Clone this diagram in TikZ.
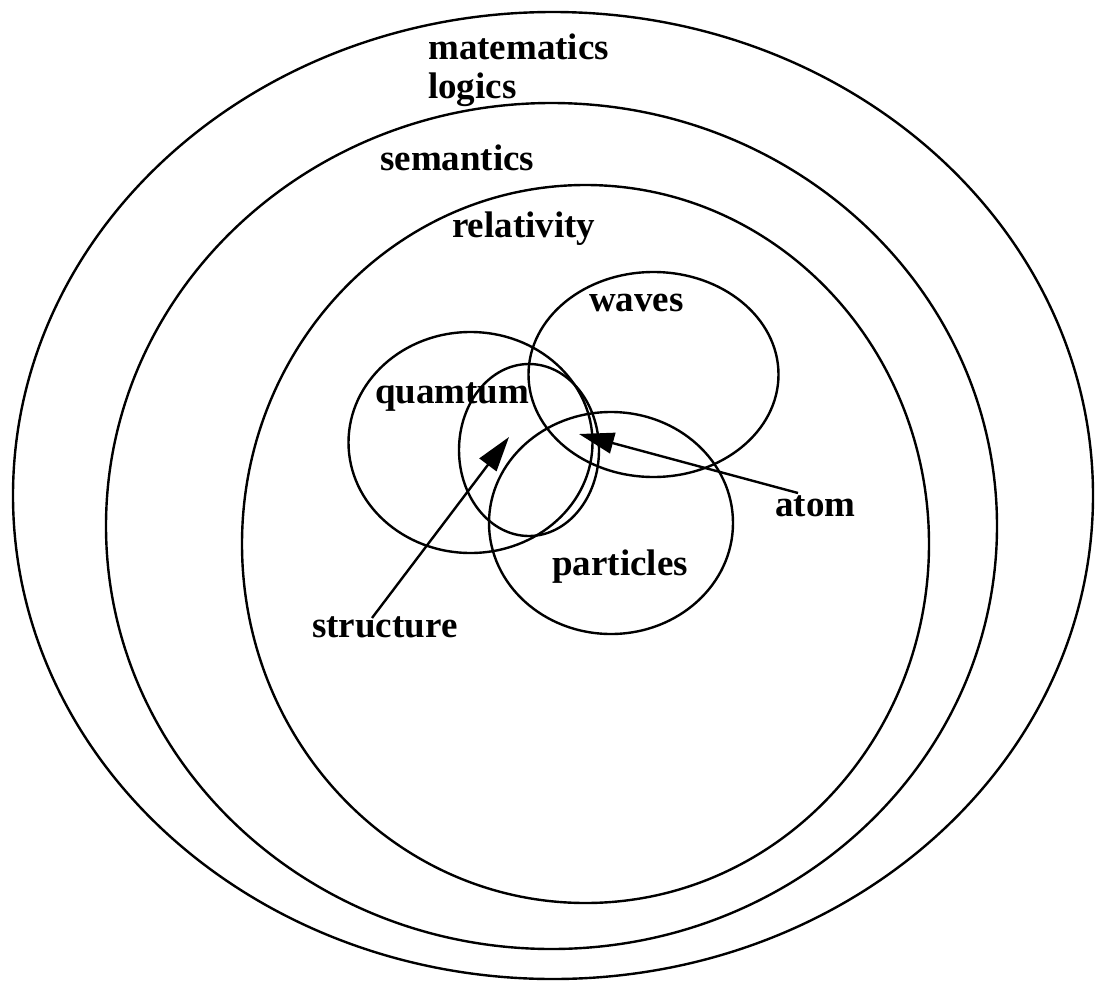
\documentclass[tikz,border=0pt]{standalone}
\usepackage{fontspec}
\setmainfont{Liberation Serif}
\usetikzlibrary{arrows.meta,shapes.geometric}
\begin{document}
\begin{tikzpicture}[x=1pt,y=-1pt,
  ring/.style={draw=black, line width=2.4pt, ellipse, inner sep=0pt, outer sep=0pt},
  word/.style={anchor=base west, inner sep=0pt, font=\fontsize{37}{44}\selectfont\bfseries},
  pointer/.style={draw=black, line width=2.4pt, -{Triangle[length=35pt,width=21pt]}}]
  \useasboundingbox (0,0) rectangle (1095,980);

  % nested domains
  \node[ring, minimum width=1080pt, minimum height=967pt] (math) at (553,495.5) {};
  \node[ring, minimum width=891pt,  minimum height=846pt] (sem)  at (551.5,526) {};
  \node[ring, minimum width=687pt,  minimum height=718pt] (rel)  at (585.5,544) {};

  % overlapping inner regions
  \node[ring, minimum width=244pt, minimum height=221pt] (quant) at (470.5,442.5) {};
  \node[ring, minimum width=140pt, minimum height=172pt] (core)  at (529,450) {};
  \node[ring, minimum width=250pt, minimum height=205pt] (wave)  at (653.5,374.5) {};
  \node[ring, minimum width=244pt, minimum height=222pt] (part)  at (611,523) {};

  % labels
  \node[word] (tmath)  at (428,59)  {matematics};
  \node[word] (tlog)   at (428,98)  {logics};
  \node[word] (tsem)   at (380,170) {semantics};
  \node[word] (trel)   at (452,237) {relativity};
  \node[word] (twave)  at (589,311) {waves};
  \node[word] (tquant) at (375,403) {quamtum};
  \node[word] (tpart)  at (552,575) {particles};
  \node[word] (tstr)   at (312,637) {structure};
  \node[word] (tatom)  at (775,516) {atom};

  % pointers
  \coordinate (strfrom) at (372,618);
  \coordinate (strto)   at (509,437);
  \coordinate (atomfrom) at (798,493);
  \coordinate (atomto)   at (579,434);
  \draw[pointer] (strfrom) -- (strto);
  \draw[pointer] (atomfrom) -- (atomto);
\end{tikzpicture}
\end{document}
